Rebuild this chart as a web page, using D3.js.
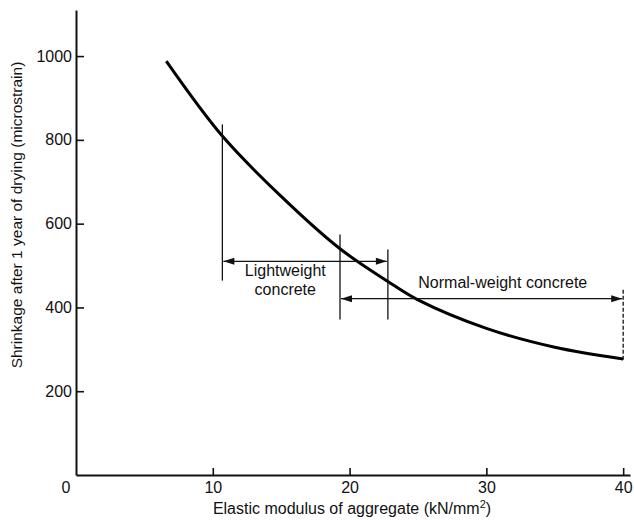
<!DOCTYPE html>
<html>
<head>
<meta charset="utf-8">
<script src="https://cdn.jsdelivr.net/npm/d3@7"></script>
<style>
  html, body { margin: 0; padding: 0; background: #fff; }
  svg { display: block; }
  text { font-family: "Liberation Sans", Arial, Helvetica, sans-serif; fill: #111; }
</style>
</head>
<body>
<svg id="chart" width="634" height="520"></svg>
<script>
// ---- data ----
const modulus = [6.6, 10.7, 15, 19.3, 22.8, 25, 30, 35, 40];          // kN/mm²
const shrinkage = [988, 809, 665, 540, 462, 418, 350, 305, 277];      // microstrain
const xTicks = [10, 20, 30, 40];
const yTicks = [200, 400, 600, 800, 1000];
const xTitle = "Elastic modulus of aggregate (kN/mm";
const yTitle = "Shrinkage after 1 year of drying (microstrain)";
// range markers: vertical limit lines (x, from, to) in data units
const limitX = [10.7, 19.3, 22.8, 40];
const limitLow = [464, 371, 371, 275];
const limitHigh = [837, 574, 538, 443];
// double-headed arrows: from, to, level
const arrowFrom = [10.7, 19.3];
const arrowTo = [22.8, 40];
const arrowLevel = [510, 421];
const rangeLabels = [["Lightweight", "concrete"], ["Normal-weight concrete"]];
const labelX = [15.3, 31.2];
const labelY = [486, 457];

// ---- scales ----
const svg = d3.select("#chart");
const x = d3.scaleLinear().domain([0, 40.5]).range([76, 630]);
const y = d3.scaleLinear().domain([0, 1110]).range([475, 10]);

// ---- axes ----
const xAxis = d3.axisBottom(x).tickValues(xTicks).tickFormat(d3.format("d"))
  .tickSizeInner(-7).tickSizeOuter(0).tickPadding(7);
const yAxis = d3.axisLeft(y).tickValues(yTicks).tickFormat(d3.format("d"))
  .tickSizeInner(-8).tickSizeOuter(0).tickPadding(4);

const gx = svg.append("g").attr("transform", `translate(0,${y(0)})`).call(xAxis);
const gy = svg.append("g").attr("transform", `translate(${x(0)},0)`).call(yAxis);
[gx, gy].forEach(g => {
  g.select(".domain").attr("stroke", "#111").attr("stroke-width", 2);
  g.selectAll(".tick line").attr("stroke", "#111").attr("stroke-width", 1.6);
  g.selectAll(".tick text").attr("font-size", 16).attr("fill", "#111")
    .attr("font-family", '"Liberation Sans", Arial, sans-serif');
});
// origin label
svg.append("text").attr("x", x(0) - 10).attr("y", y(0) + 18)
  .attr("text-anchor", "middle").attr("font-size", 16).text("0");

// axis titles
const xt = svg.append("text").attr("x", 352).attr("y", 514)
  .attr("text-anchor", "middle").attr("font-size", 16);
xt.append("tspan").text(xTitle);
xt.append("tspan").attr("font-size", 11).attr("dy", -6).text("2");
xt.append("tspan").attr("dy", 6).text(")");

svg.append("text").attr("transform", `translate(22,215) rotate(-90)`)
  .attr("text-anchor", "middle").attr("font-size", 15.5).text(yTitle);

// ---- curve ----
const pts = modulus.map((m, i) => [m, shrinkage[i]]);
svg.append("path").datum(pts)
  .attr("fill", "none").attr("stroke", "#000").attr("stroke-width", 3)
  .attr("d", d3.line().x(d => x(d[0])).y(d => y(d[1])).curve(d3.curveCatmullRom));

// ---- range markers ----
limitX.forEach((lx, i) => {
  svg.append("line")
    .attr("x1", x(lx)).attr("x2", x(lx))
    .attr("y1", y(limitLow[i])).attr("y2", y(limitHigh[i]))
    .attr("stroke", "#111").attr("stroke-width", 1.3)
    .attr("stroke-dasharray", i === 3 ? "4,2" : null);
});

function arrowHead(px, py, dir) {
  // dir = -1 pointing left, +1 pointing right
  const len = 11, half = 3.5;
  svg.append("path")
    .attr("d", `M${px},${py} L${px - dir * len},${py - half} L${px - dir * len},${py + half} Z`)
    .attr("fill", "#111");
}
arrowFrom.forEach((a, i) => {
  const x0 = x(a) + 1, x1 = x(arrowTo[i]) - 1, yy = y(arrowLevel[i]);
  svg.append("line").attr("x1", x0).attr("x2", x1).attr("y1", yy).attr("y2", yy)
    .attr("stroke", "#111").attr("stroke-width", 1.3);
  arrowHead(x0, yy, -1);
  arrowHead(x1, yy, 1);
});

// labels
rangeLabels.forEach((lines, i) => {
  lines.forEach((t, j) => {
    svg.append("text").attr("x", x(labelX[i])).attr("y", y(labelY[i]) + j * 19)
      .attr("text-anchor", "middle").attr("dominant-baseline", "middle")
      .attr("font-size", 16).text(t);
  });
});
</script>
</body>
</html>
